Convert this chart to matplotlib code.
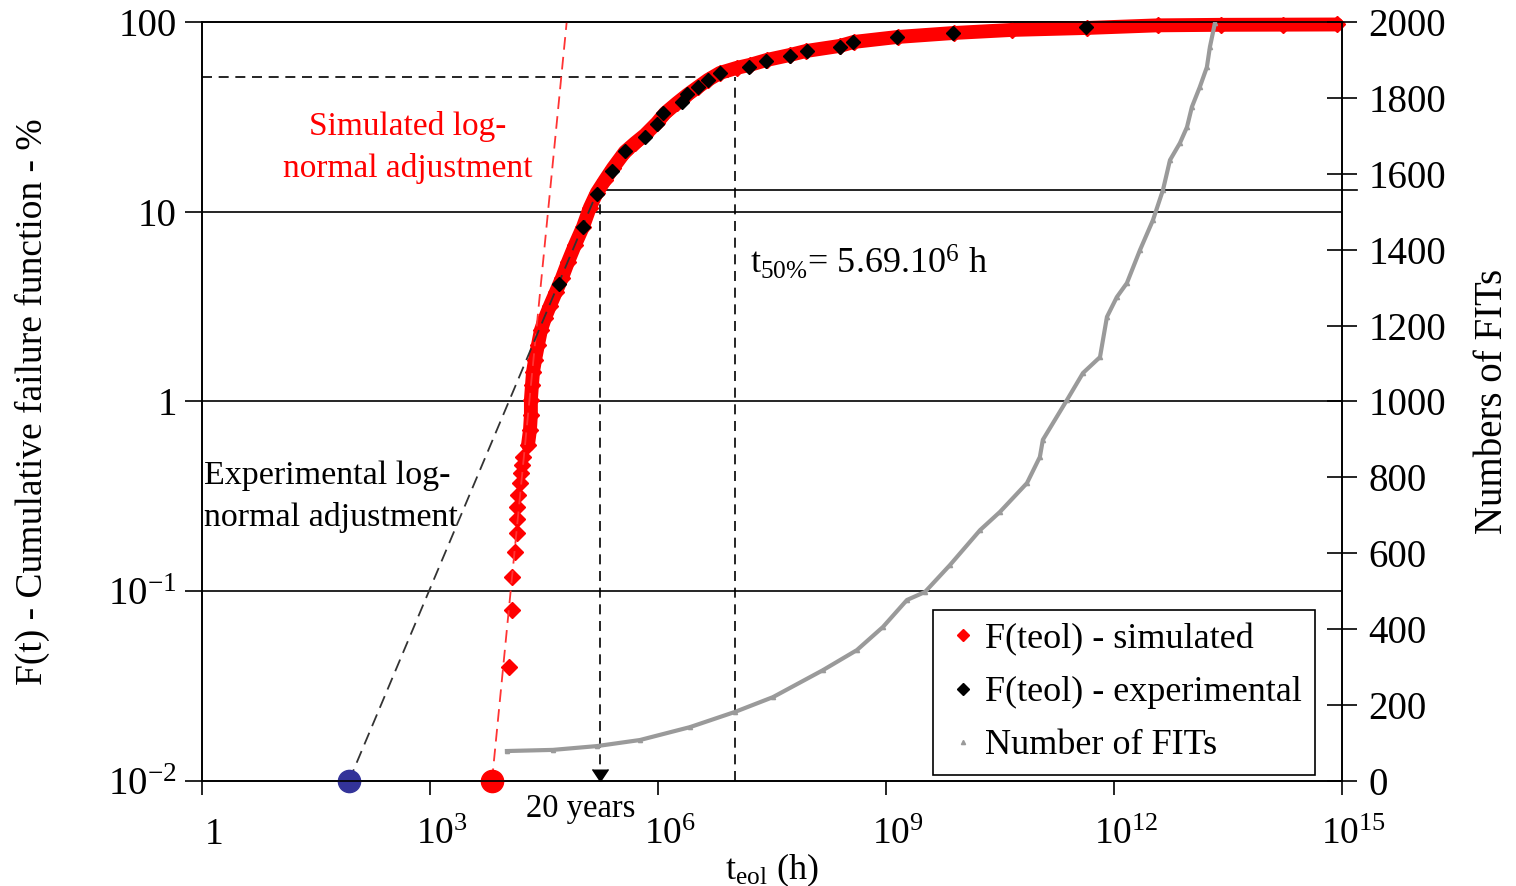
import matplotlib
matplotlib.use('Agg')
import matplotlib.pyplot as plt
from matplotlib.lines import Line2D
from matplotlib.transforms import ScaledTranslation

plt.rcParams['font.family'] = ['Liberation Serif', 'DejaVu Serif']
plt.rcParams['mathtext.default'] = 'regular'

# simulated F(teol) (hours, %)
sim_t = [1.09e4, 1.19e4, 1.19e4, 1.30e4, 1.40e4, 1.40e4, 1.40e4, 1.44e4, 1.53e4,
         1.57e4, 1.62e4, 1.67e4, 1.95e4, 2.07e4, 2.13e4, 2.13e4, 2.20e4, 2.27e4,
         2.41e4, 2.64e4, 2.89e4, 3.26e4, 3.79e4, 4.55e4, 5.46e4, 6.55e4, 8.09e4,
         1.03e5, 1.27e5, 1.57e5, 2.01e5, 2.56e5, 3.68e5, 4.98e5, 6.75e5, 9.70e5,
         1.24e6, 1.78e6, 2.41e6, 3.36e6, 4.55e6, 6.55e6, 1.09e7, 1.62e7, 2.72e7,
         5.46e7, 8.85e7, 2.48e8, 3.79e8, 1.44e9, 7.85e9, 4.55e10, 4.41e11, 3.79e12,
         2.56e13, 1.67e14, 8.6e14]
sim_F = [0.040, 0.080, 0.119, 0.161, 0.203, 0.240, 0.278, 0.321, 0.372,
         0.420, 0.463, 0.510, 0.590, 0.707, 0.849, 1.02, 1.22, 1.43,
         1.65, 1.99, 2.38, 2.75, 3.19, 3.78, 4.48, 5.43, 6.68,
         8.31, 10.5, 12.6, 14.7, 17.0, 20.7, 23.0, 25.4, 29.4,
         33.1, 37.4, 41.2, 45.4, 49.5, 53.9, 57.3, 59.4, 63.1,
         67.0, 70.3, 74.8, 78.5, 83.4, 87.5, 90.8, 93.0, 96.0,
         96.6, 96.8, 97.0]
n_sparse = 12

# experimental F(teol)
exp_t = [4.98e4, 1.03e5, 1.57e5, 2.48e5, 3.68e5, 6.75e5, 9.70e5, 1.16e6, 2.07e6,
         2.41e6, 3.36e6, 4.55e6, 6.55e6, 1.57e7, 2.64e7, 5.46e7, 9.13e7, 2.48e8,
         3.68e8, 1.40e9, 7.62e9, 4.28e11]
exp_F = [4.16, 8.31, 12.4, 16.4, 20.9, 24.8, 29.0, 33.1, 37.9,
         41.8, 45.4, 49.5, 53.9, 57.9, 62.3, 66.2, 70.3, 73.9,
         78.5, 83.4, 87.5, 94.1]

# number of FITs (right axis)
fit_t = [1.03e4, 4.15e4, 1.57e5, 5.80e5, 2.64e6, 1.03e7, 3.26e7, 1.48e8, 4.15e8,
         9.14e8, 1.89e9, 3.26e9, 6.95e9, 1.73e10, 3.16e10, 7.17e10, 1.06e11,
         1.16e11, 2.41e11, 3.91e11, 6.55e11, 8.09e11, 1.09e12, 1.48e12, 2.20e12,
         3.26e12, 4.41e12, 5.46e12, 7.38e12, 9.14e12, 1.06e13, 1.35e13, 1.67e13,
         1.83e13, 2.13e13]
fit_n = [79, 82, 92, 108, 142, 182, 221, 292, 345,
         406, 477, 498, 569, 661, 709, 785, 854,
         899, 1004, 1075, 1117, 1223, 1275, 1312, 1399,
         1478, 1557, 1636, 1681, 1723, 1776, 1829, 1881,
         1934, 1997]

# log-normal adjustment lines and markers
sim_fit_t = [6546, 6.3e4]
sim_fit_F = [0.01, 100]
exp_fit_t = [86, 1.57e5]
exp_fit_F = [0.01, 12.6]
t_20y = 175200
F_20y = 13.0
t_50 = 1.03e7
F_50 = 51.0

xticks = [1, 1e3, 1e6, 1e9, 1e12, 1e15]
xticklabels = ['1', '$10^{3}$', '$10^{6}$', '$10^{9}$', '$10^{12}$', '$10^{15}$']
yticks = [0.01, 0.1, 1, 10, 100]
yticklabels = ['$10^{-2}$', '$10^{-1}$', '1', '10', '100']
y2ticks = list(range(0, 2001, 200))

fig, ax = plt.subplots(figsize=(15.16, 8.86), dpi=100)
fig.subplots_adjust(left=0.1332, right=0.8852, top=0.9752, bottom=0.1185)

ax.set_xscale('log')
ax.set_yscale('log')
ax.set_xlim(1, 1e15)
ax.set_ylim(0.01, 100)

# grid lines
for g in [0.1, 1, 10]:
    ax.axhline(g, color='black', lw=1.2, zorder=1)

# guide lines
ax.plot([t_20y, 1.6e15], [F_20y, F_20y], color='black', lw=1.2, clip_on=False, zorder=1)
ax.plot([t_20y, t_20y], [0.01, F_20y], color='black', lw=1.2, dashes=(6, 4), zorder=2)
ax.plot([t_20y], [0.01], marker=7, color='black', markersize=12, clip_on=False, zorder=5)
ax.plot([1, t_50], [F_50, F_50], color='black', lw=1.2, dashes=(6, 4), zorder=2)
ax.plot([t_50, t_50], [0.01, F_50], color='black', lw=1.2, dashes=(6, 4), zorder=2)

# simulated data
ax.plot(sim_t[n_sparse:], sim_F[n_sparse:], color='red', lw=10, solid_capstyle='round',
        zorder=3, clip_on=False)
ax.plot(sim_t, sim_F, 'D', color='red', markersize=8, zorder=3, clip_on=False)

# adjustment lines
ax.plot(sim_fit_t, sim_fit_F, color='#ff3333', lw=1.3, dashes=(7, 4), zorder=4)
ax.plot(exp_fit_t, exp_fit_F, color='#333333', lw=1.3, dashes=(7, 4), zorder=4)

ax.plot(exp_t, exp_F, 'D', color='black', markersize=7, zorder=5)

ax.plot([sim_fit_t[0]], [0.01], 'o', color='red', markersize=16, clip_on=False, zorder=6)
ax.plot([exp_fit_t[0]], [0.01], 'o', color='#333399', markersize=16, clip_on=False, zorder=6)

ax.set_xticks(xticks)
ax.set_xticklabels(xticklabels, fontsize=27)
ax.minorticks_off()
ax.set_yticks(yticks)
ax.set_yticklabels(yticklabels, fontsize=28)
ax.tick_params(axis='x', direction='out', length=10, width=1.2, pad=16)
ax.tick_params(axis='y', direction='out', length=12, width=1.2, pad=6)
for lbl in ax.get_xticklabels():
    lbl.set_transform(lbl.get_transform() + ScaledTranslation(0.12, 0, fig.dpi_scale_trans))

ax.set_xlabel('t$_{eol}$ (h)', fontsize=26, labelpad=0)
ax.set_ylabel('F(t) - Cumulative failure function - %', fontsize=27, labelpad=42)

for s in ax.spines.values():
    s.set_linewidth(1.2)

ax.text(514, 21.7, 'Simulated log-\nnormal adjustment', color='red', fontsize=24,
        ha='center', va='center', linespacing=1.45)
ax.text(1.06, 0.314, 'Experimental log-\nnormal adjustment', color='black', fontsize=24.5,
        ha='left', va='center', linespacing=1.45)
ax.text(1.62e7, 5.37, 't$_{50\\%}$= 5.69.10$^{6}$ h', fontsize=26, ha='left', va='center')
ax.annotate('20 years', xy=(9.7e4, -0.036), xycoords=('data', 'axes fraction'),
            fontsize=23.5, ha='center', va='center', annotation_clip=False)

# right axis
ax2 = ax.twinx()
ax2.set_ylim(0, 2000)
ax2.plot(fit_t, fit_n, color='#9a9a9a', lw=3, marker='^', markersize=3, zorder=3)
ax2.set_yticks(y2ticks)
ax2.tick_params(axis='y', direction='inout', length=22, width=1.2, pad=8, labelsize=28)
ax2.set_ylabel('Numbers of FITs', fontsize=28, labelpad=20)
for s in ax2.spines.values():
    s.set_linewidth(1.2)

handles = [
    Line2D([], [], ls='none', marker='D', color='red', markersize=6),
    Line2D([], [], ls='none', marker='D', color='black', markersize=6),
    Line2D([], [], ls='none', marker='^', color='#9a9a9a', markersize=3),
]
labels = ['F(teol) - simulated', 'F(teol) - experimental', 'Number of FITs']
leg = ax2.legend(handles, labels, loc='lower left', bbox_to_anchor=(0.641, 0.008),
                 fontsize=26, frameon=True, fancybox=False, edgecolor='black',
                 framealpha=1, handlelength=1.0, handletextpad=0.1,
                 borderpad=0.35, labelspacing=0.55, borderaxespad=0)
leg.get_frame().set_linewidth(1.2)

fig.savefig('out.png', dpi=100)
